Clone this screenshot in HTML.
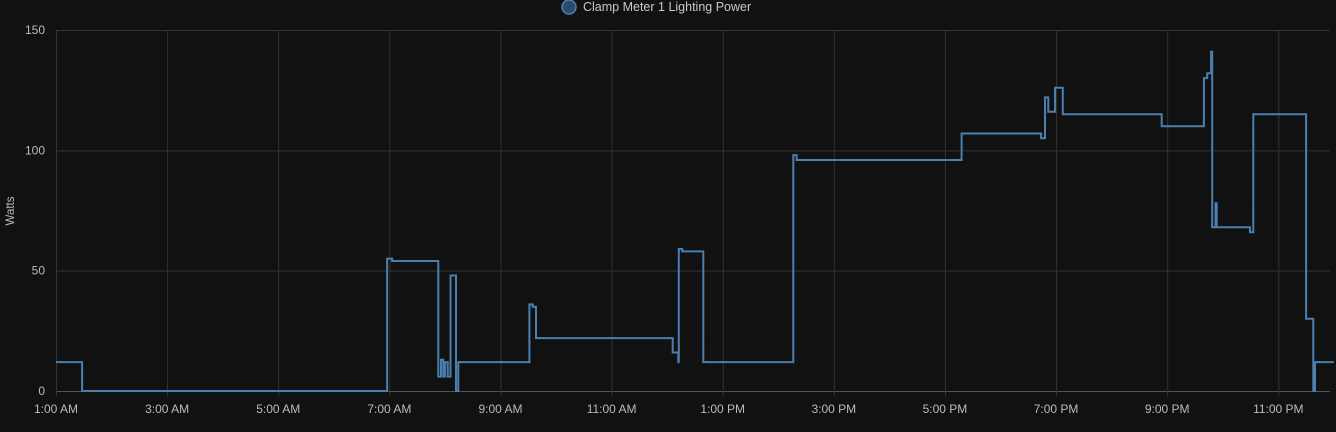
<!DOCTYPE html>
<html><head><meta charset="utf-8">
<style>
html,body{margin:0;padding:0;background:#111111;}
body{width:1336px;height:427px;overflow:hidden;font-family:"Liberation Sans",sans-serif;}
svg text{font-family:"Liberation Sans",sans-serif;}
</style></head>
<body>
<svg id="chart" width="1336" height="427" xmlns="http://www.w3.org/2000/svg">
<g id="legend">
<circle cx="569" cy="7" r="7" fill="#2e4a68" stroke="#4b7fb3" stroke-width="1.5"/>
<text x="583" y="11" font-size="12.5" fill="#c8c8c8">Clamp Meter 1 Lighting Power</text>
</g>
<text transform="translate(14,211) rotate(-90)" text-anchor="middle" font-size="11.5" fill="#bbbbbb">Watts</text>
<g id="grid"></g>
<g id="ticks"></g>
<path id="line" fill="none" stroke="#4a7fb0" stroke-width="2" stroke-linejoin="miter"/>
</svg>
<script>
// hours since 1:00 AM, value in watts (step series)
const times = [0,0.47,5.96,6.05,6.88,6.93,6.97,7.0,7.05,7.1,7.2,7.24,7.28,8.5,8.52,8.58,8.64,11.05,11.1,11.2,11.21,11.27,11.65,11.67,13.25,13.27,13.33,16.27,16.3,17.7,17.73,17.8,17.86,17.93,17.98,18.1,18.12,19.87,19.9,20.63,20.66,20.72,20.79,20.81,20.87,20.89,21.49,21.55,22.48,22.5,22.61,22.63,22.66,22.7,23.0];
const values = [12,0,55,54,6,13,6,12,6,48,0,12,12,12,36,35,22,22,16,12,59,58,12,12,12,98,96,96,107,107,105,122,116,116,126,126,115,115,110,110,130,132,141,68,78,68,66,115,115,30,30,0,12,12,12];
const yTicks = [0,50,100,150];
const xTickHours = [0,2,4,6,8,10,12,14,16,18,20,22];
const xTickLabels = ["1:00 AM","3:00 AM","5:00 AM","7:00 AM","9:00 AM","11:00 AM","1:00 PM","3:00 PM","5:00 PM","7:00 PM","9:00 PM","11:00 PM"];

const X0=56, X1=1330, Y0=391, Y1=30;
const xMin=0, xMax=22.93, yMin=0, yMax=150;
const xs = h => X0 + (h-xMin)/(xMax-xMin)*(X1-X0);
const ys = v => Y0 - (v-yMin)/(yMax-yMin)*(Y0-Y1);
const NS="http://www.w3.org/2000/svg";
const grid=document.getElementById('grid'), ticks=document.getElementById('ticks');

yTicks.forEach(v=>{
  const l=document.createElementNS(NS,'line');
  
  
  l.setAttribute('x1',X0);l.setAttribute('x2',X1);
  l.setAttribute('y1',ys(v)+0.5);l.setAttribute('y2',ys(v)+0.5);
  l.setAttribute('stroke',v===0?'#555':'#333');l.setAttribute('stroke-width','1');
  grid.appendChild(l);
  const t=document.createElementNS(NS,'text');
  
  
  t.setAttribute('x',45);t.setAttribute('y',ys(v)+4);
  t.setAttribute('text-anchor','end');t.setAttribute('font-size','12');t.setAttribute('fill','#bbbbbb');
  t.textContent=v;ticks.appendChild(t);
});
xTickHours.forEach((h,i)=>{
  const l=document.createElementNS(NS,'line');
  
  
  l.setAttribute('x1',xs(h)+0.5);l.setAttribute('x2',xs(h)+0.5);
  l.setAttribute('y1',Y1);l.setAttribute('y2',Y0+5);
  l.setAttribute('stroke','#333');l.setAttribute('stroke-width','1');
  grid.appendChild(l);
  const t=document.createElementNS(NS,'text');
  
  
  t.setAttribute('x',xs(h));t.setAttribute('y',413);
  t.setAttribute('text-anchor','middle');t.setAttribute('font-size','12');t.setAttribute('fill','#bbbbbb');
  t.textContent=xTickLabels[i];ticks.appendChild(t);
});
let d='';
for(let i=0;i<times.length;i++){
  const x=xs(times[i]).toFixed(1), y=ys(values[i]).toFixed(1);
  if(i===0) d+='M'+x+','+y;
  else d+='H'+x+'V'+y;
}
d+='H'+X1;
document.getElementById('line').setAttribute('d',d);
</script>
</body></html>
